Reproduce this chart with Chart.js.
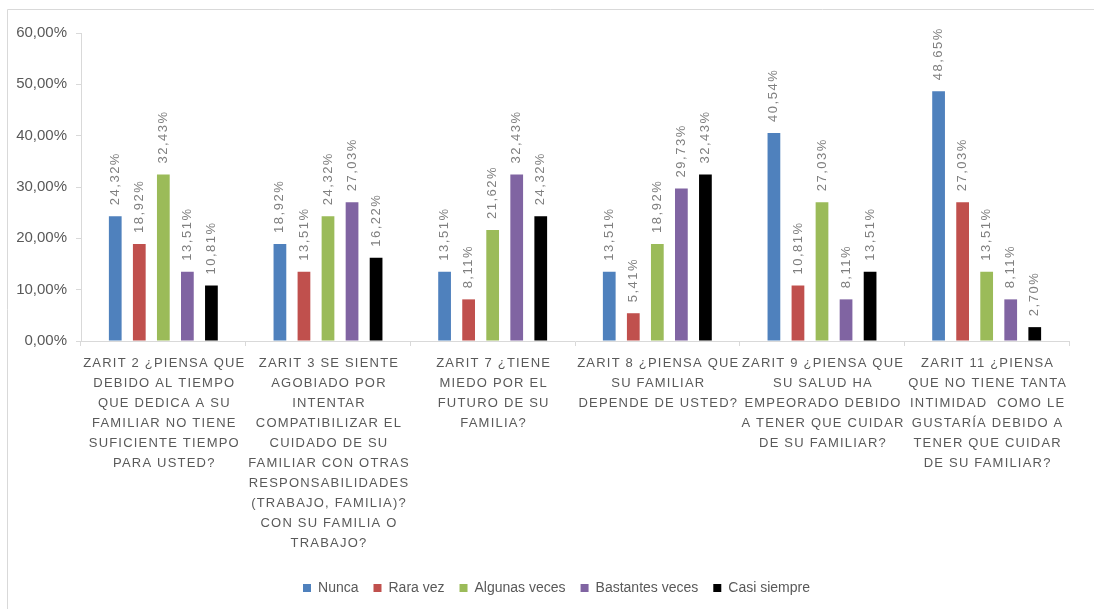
<!DOCTYPE html>
<html>
<head>
<meta charset="utf-8">
<script src="https://cdn.jsdelivr.net/npm/chart.js@4"></script>
<style>
  html, body { margin: 0; padding: 0; background: #fff; }
  #wrap { position: relative; width: 1094px; height: 609px; }
</style>
</head>
<body>
<div id="wrap"><canvas id="chart" width="1094" height="609"></canvas></div>
<script>
(function () {
    'use strict';

    // ── data ──────────────────────────────────────────────────────
    const categories = [
        ['ZARIT 2 ¿PIENSA QUE', 'DEBIDO AL TIEMPO', 'QUE DEDICA A SU', 'FAMILIAR NO TIENE', 'SUFICIENTE TIEMPO', 'PARA USTED?'],
        ['ZARIT 3 SE SIENTE', 'AGOBIADO POR', 'INTENTAR', 'COMPATIBILIZAR EL', 'CUIDADO DE SU', 'FAMILIAR CON OTRAS', 'RESPONSABILIDADES', '(TRABAJO, FAMILIA)?', 'CON SU FAMILIA O', 'TRABAJO?'],
        ['ZARIT 7 ¿TIENE', 'MIEDO POR EL', 'FUTURO DE SU', 'FAMILIA?'],
        ['ZARIT 8 ¿PIENSA QUE', 'SU FAMILIAR', 'DEPENDE DE USTED?'],
        ['ZARIT 9 ¿PIENSA QUE', 'SU SALUD HA', 'EMPEORADO DEBIDO', 'A TENER QUE CUIDAR', 'DE SU FAMILIAR?'],
        ['ZARIT 11 ¿PIENSA', 'QUE NO TIENE TANTA', 'INTIMIDAD  COMO LE', 'GUSTARÍA DEBIDO A', 'TENER QUE CUIDAR', 'DE SU FAMILIAR?']
    ];
    const seriesNames = ['Nunca', 'Rara vez', 'Algunas veces', 'Bastantes veces', 'Casi siempre'];
    const nunca          = [24.32, 18.92, 13.51, 13.51, 40.54, 48.65];
    const raraVez        = [18.92, 13.51,  8.11,  5.41, 10.81, 27.03];
    const algunasVeces   = [32.43, 24.32, 21.62, 18.92, 27.03, 13.51];
    const bastantesVeces = [13.51, 27.03, 32.43, 29.73,  8.11,  8.11];
    const casiSiempre    = [10.81, 16.22, 24.32, 32.43, 13.51,  2.70];
    const yTicks = [0, 10, 20, 30, 40, 50, 60];

    const colors = ['#4f81bd', '#c0504d', '#9bbb59', '#8064a2', '#000000'];
    const FONT = "'Liberation Sans', Arial, sans-serif";
    const GREY = '#595959';

    function pct(v) { return v.toFixed(2).replace('.', ',') + '%'; }

    // frame around the chart object (cut off at right/bottom like the source)
    const framePlugin = {
        id: 'frame',
        beforeDraw: function (chart) {
            const ctx = chart.ctx;
            ctx.save();
            ctx.strokeStyle = '#d9d9d9';
            ctx.lineWidth = 1;
            ctx.beginPath();
            ctx.moveTo(7.5, 609);
            ctx.lineTo(7.5, 9.5);
            ctx.lineTo(1094, 9.5);
            ctx.stroke();
            ctx.restore();
        }
    };

    // legend sits a bit right of the canvas centre in the source
    const legendShift = {
        id: 'legendShift',
        afterLayout: function (chart) {
            if (!chart.legend) return;
            chart.legend.left += 22;
            chart.legend.right += 22;
        }
    };

    // rotated value labels above each bar
    const valueLabels = {
        id: 'valueLabels',
        afterDatasetsDraw: function (chart) {
            const ctx = chart.ctx;
            ctx.save();
            ctx.font = '13px ' + FONT;
            ctx.fillStyle = '#7f7f7f';
            ctx.letterSpacing = '1.5px';
            ctx.textAlign = 'left';
            ctx.textBaseline = 'middle';
            chart.data.datasets.forEach(function (ds, di) {
                chart.getDatasetMeta(di).data.forEach(function (bar, i) {
                    ctx.save();
                    ctx.translate(bar.x, bar.y - 11);
                    ctx.rotate(-Math.PI / 2);
                    ctx.fillText(pct(ds.data[i]), 0, 0);
                    ctx.restore();
                });
            });
            ctx.restore();
        }
    };

    // spaced-out uppercase category labels under the x axis
    const categoryLabels = {
        id: 'categoryLabels',
        afterDraw: function (chart) {
            const ctx = chart.ctx;
            const x = chart.scales.x;
            ctx.save();
            ctx.font = '13px ' + FONT;
            ctx.fillStyle = GREY;
            ctx.letterSpacing = '1.2px';
            ctx.textAlign = 'center';
            ctx.textBaseline = 'middle';
            categories.forEach(function (lines, i) {
                const cx = x.getPixelForValue(i) + 1;
                lines.forEach(function (line, li) {
                    ctx.fillText(line, cx, x.top + 22 + li * 20);
                });
            });
            ctx.restore();
        }
    };

    const series = [nunca, raraVez, algunasVeces, bastantesVeces, casiSiempre];

    new Chart(document.getElementById('chart'), {
        type: 'bar',
        data: {
            labels: categories.map(function (c) { return c.join(' '); }),
            datasets: series.map(function (data, i) {
                return {
                    label: seriesNames[i],
                    data: data,
                    backgroundColor: colors[i],
                    categoryPercentage: 0.73,
                    barPercentage: 0.53
                };
            })
        },
        options: {
            responsive: false,
            animation: false,
            layout: { padding: { top: 33, right: 25, bottom: 4, left: 0 } },
            plugins: {
                legend: {
                    position: 'bottom',
                    labels: {
                        boxWidth: 8,
                        boxHeight: 8,
                        padding: 15,
                        color: GREY,
                        font: { family: FONT, size: 14 }
                    }
                },
                tooltip: { enabled: false }
            },
            scales: {
                x: {
                    grid: {
                        display: true,
                        drawOnChartArea: false,
                        drawTicks: true,
                        tickLength: 5,
                        color: '#d9d9d9'
                    },
                    border: { color: '#d9d9d9' },
                    ticks: { display: false },
                    afterFit: function (scale) { scale.height = 225; }
                },
                y: {
                    min: 0,
                    max: 60,
                    afterBuildTicks: function (scale) {
                        scale.ticks = yTicks.map(function (v) { return { value: v }; });
                    },
                    grid: {
                        display: true,
                        drawOnChartArea: false,
                        drawTicks: true,
                        tickLength: 5,
                        color: '#d9d9d9'
                    },
                    border: { color: '#d9d9d9' },
                    ticks: {
                        color: GREY,
                        padding: 9,
                        font: { family: FONT, size: 15 },
                        callback: function (v) { return pct(v); }
                    },
                    afterFit: function (scale) { scale.width = 81; }
                }
            }
        },
        plugins: [framePlugin, legendShift, valueLabels, categoryLabels]
    });
})();
</script>
</body>
</html>
